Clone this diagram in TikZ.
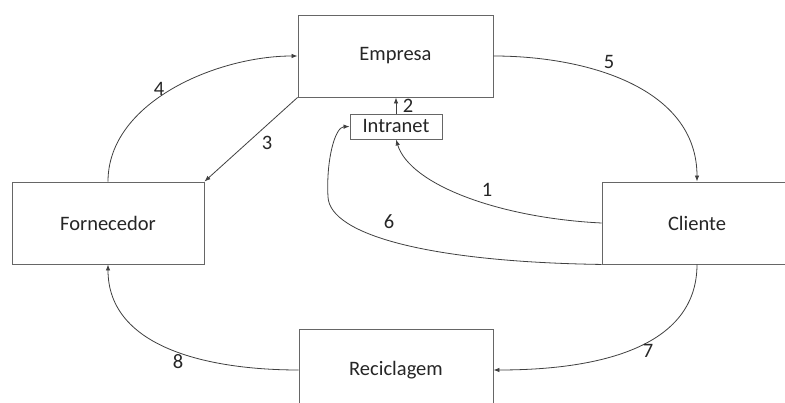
\documentclass[tikz,border=0pt]{standalone}
\usepackage{fontspec}
\setmainfont{Carlito}
\usetikzlibrary{arrows.meta}
\begin{document}
\begin{tikzpicture}[x=1pt,y=-1pt,
  boxnode/.style={draw=black!60,line width=0.9pt,fill=white,inner sep=0pt,
    font=\fontsize{20.5}{24}\selectfont,text=black!85},
  conn/.style={draw=black!75,line width=0.8pt,-{Latex[length=6pt,width=4.5pt]}},
  numlabel/.style={font=\fontsize{20.5}{24}\selectfont,text=black!85,inner sep=0pt}]
\useasboundingbox (0,0) rectangle (785,403);
\clip (0,0) rectangle (785,403);
\fill[white] (0,0) rectangle (785,403);
\node[boxnode,minimum width=195pt,minimum height=82pt] (emp) at (395.5,56) {Empresa};
\node[boxnode,minimum width=92pt,minimum height=25pt] (intr) at (396,126.5) {Intranet};
\node[boxnode,minimum width=190pt,minimum height=82pt] (cli) at (697,223) {Cliente};
\node[boxnode,minimum width=192pt,minimum height=82pt] (forn) at (108,223) {Fornecedor};
\node[boxnode,minimum width=194pt,minimum height=82pt] (rec) at (396,370) {Reciclagem};
\coordinate (six) at (328,197);
% connectors
\draw[conn] (forn.north) to[out=90,in=180,looseness=0.9] (emp.west);
\draw[conn] (emp.south west) -- (forn.north east);
\draw[conn] (intr.north) -- (intr.north |- emp.south);
\draw[conn] (emp.east) to[out=0,in=90] (cli.north);
\draw[conn] (cli.west) .. controls (500,218) and (410,185) .. (intr.south);
\draw[conn] (cli.south west) .. controls (430,262) and (330,235) .. (six)
  .. controls (326,160) and (335,127) .. (intr.west);
\draw[conn] (cli.south) to[out=-90,in=0] (rec.east);
\draw[conn] (rec.west) to[out=180,in=-90] (forn.south);
% labels
\node[numlabel] (l4) at (159,89) {4};
\node[numlabel] (l3) at (267,143) {3};
\node[numlabel] (l2) at (408,106) {2};
\node[numlabel] (l5) at (609,62) {5};
\node[numlabel] (l1) at (487,190) {1};
\node[numlabel] (l6) at (389,222) {6};
\node[numlabel] (l7) at (648,351) {7};
\node[numlabel] (l8) at (178,362) {8};
\end{tikzpicture}
\end{document}
